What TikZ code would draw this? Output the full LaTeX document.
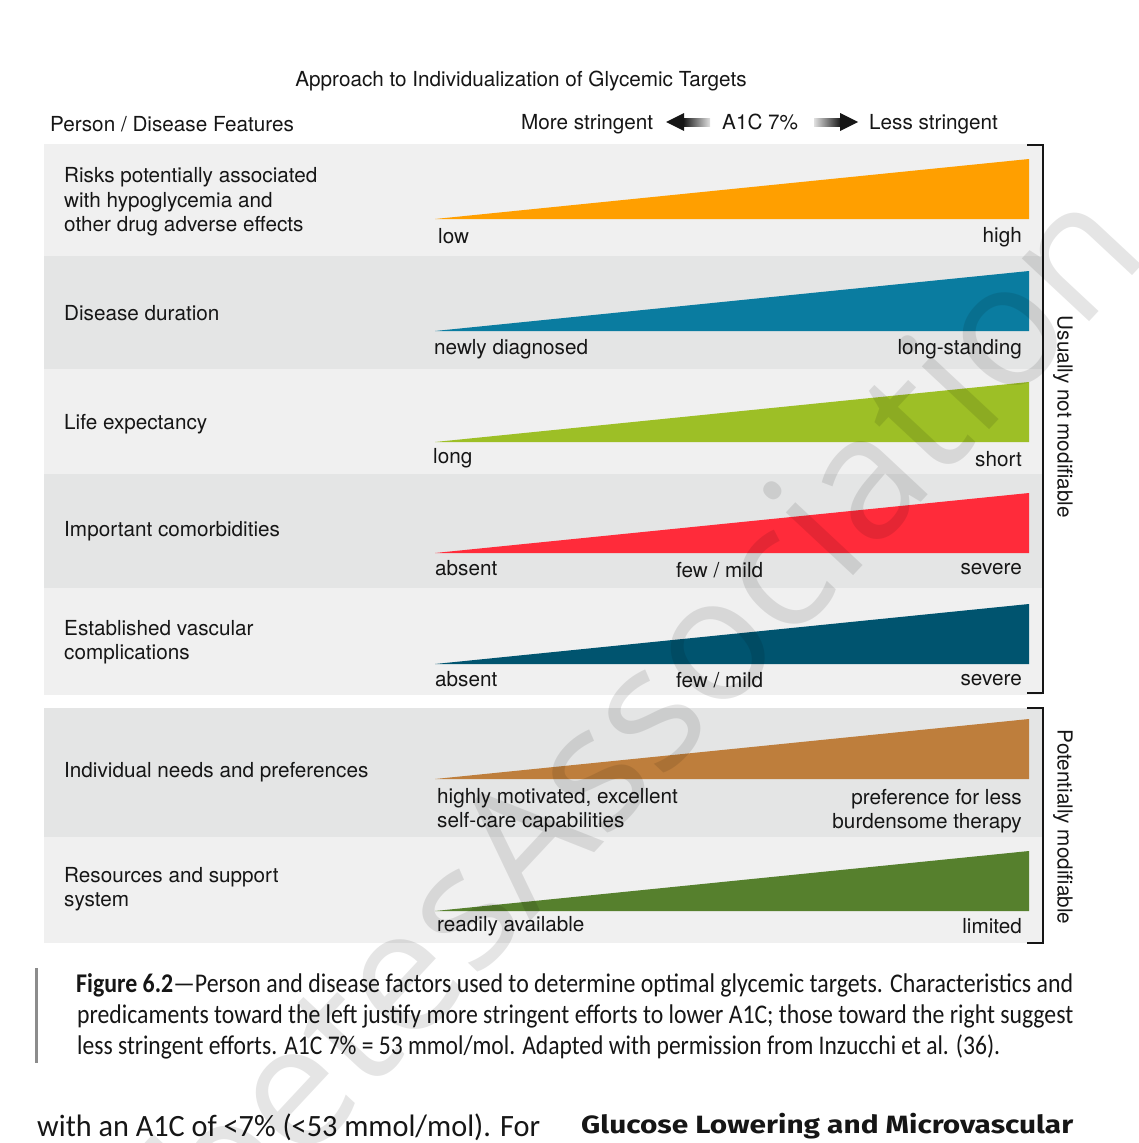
\documentclass[tikz,border=0pt]{standalone}
\usepackage{fontspec}
\usepackage{graphicx}
\setmainfont{TeX Gyre Heros}
\newfontfamily\capf{Carlito}
\newfontfamily\headf{Fira Sans}
\newfontfamily\wmf{Open Sans}
\definecolor{bandA}{HTML}{F0F0F0}
\definecolor{bandB}{HTML}{E4E5E5}
\definecolor{cOrange}{HTML}{FF9F00}
\definecolor{cTeal}{HTML}{0A7CA0}
\definecolor{cLime}{HTML}{9DBF26}
\definecolor{cRed}{HTML}{FF2B3A}
\definecolor{cDeep}{HTML}{00546F}
\definecolor{cBrown}{HTML}{BE7E3C}
\definecolor{cGreen}{HTML}{56802D}
\definecolor{txt}{HTML}{161616}
\begin{document}
\begin{tikzpicture}[x=1pt,y=-1pt,
  lbl/.style={inner sep=0pt, text=txt, font=\fontsize{20.7}{24.5}\selectfont},
  lft/.style={lbl, anchor=west, align=left},
  rgt/.style={lbl, anchor=east, align=right},
  brk/.style={draw=txt, line width=1.3pt},
  capline/.style={inner sep=0pt, anchor=base west, text=txt, font=\capf\fontsize{27}{31}\selectfont}]
\useasboundingbox (0,0) rectangle (1138,1143);
\fill[white] (0,0) rectangle (1138,1143);

% title and header
\node[lbl, anchor=base] (title) at (521,86) {Approach to Individualization of Glycemic Targets};
\node[lbl, anchor=base west] (feat) at (50,131) {Person / Disease Features};
\node[lbl, anchor=base west] (more) at (521,129) {More stringent};
\node[lbl, anchor=base west] (a1c) at (722,129) {A1C 7\%};
\node[lbl, anchor=base west] (less) at (869,129) {Less stringent};
\shade[left color=txt, right color=black!12] (683,118) rectangle (710,126);
\fill[txt] (666,122) -- (684,113) -- (684,131) -- cycle;
\shade[left color=black!12, right color=txt] (814,118) rectangle (841,126);
\fill[txt] (858,122) -- (840,113) -- (840,131) -- cycle;

% bands
\fill[bandA] (44,144) rectangle (1042,256);
\fill[bandB] (44,256) rectangle (1042,369);
\fill[bandA] (44,369) rectangle (1042,474);
\fill[bandB] (44,474) rectangle (1042,588);
\fill[bandA] (44,588) rectangle (1042,695);
\fill[bandB] (44,708) rectangle (1042,837);
\fill[bandA] (44,837) rectangle (1042,943);

% wedges
\fill[cOrange] (435,219) -- (1029,159) -- (1029,219) -- cycle;
\fill[cTeal]   (435,331) -- (1029,271) -- (1029,331) -- cycle;
\fill[cLime]   (435,442) -- (1029,382) -- (1029,442) -- cycle;
\fill[cRed]    (435,553) -- (1029,493) -- (1029,553) -- cycle;
\fill[cDeep]   (435,664) -- (1029,604) -- (1029,664) -- cycle;
\fill[cBrown]  (435,779) -- (1029,719) -- (1029,779) -- cycle;
\fill[cGreen]  (435,911) -- (1029,851) -- (1029,911) -- cycle;

% left labels
\node[lft] (f1) at (64,202) {Risks potentially associated\\with hypoglycemia and\\other drug adverse effects};
\node[lft] (f2) at (64,313) {Disease duration};
\node[lft] (f3) at (64,424) {Life expectancy};
\node[lft] (f4) at (64,531) {Important comorbidities};
\node[lft] (f5) at (64,642) {Established vascular\\complications};
\node[lft] (f6) at (64,772) {Individual needs and preferences};
\node[lft] (f7) at (64,889) {Resources and support\\system};

% scale labels
\node[lft] (l1) at (438,236) {low};
\node[rgt] (r1) at (1022,237) {high};
\node[lft] (l2) at (434,349) {newly diagnosed};
\node[rgt] (r2) at (1022,349) {long-standing};
\node[lft] (l3) at (433,458) {long};
\node[rgt] (r3) at (1022,459) {short};
\node[lft] (l4) at (435,568) {absent};
\node[lft] (m4) at (676,570) {few / mild};
\node[rgt] (r4) at (1022,569) {severe};
\node[lft] (l5) at (435,679) {absent};
\node[lft] (m5) at (676,680) {few / mild};
\node[rgt] (r5) at (1022,680) {severe};
\node[lft] (l6) at (437,810) {highly motivated, excellent\\self-care capabilities};
\node[rgt] (r6) at (1022,811) {preference for less\\burdensome therapy};
\node[lft] (l7) at (437,926) {readily available};
\node[rgt] (r7) at (1022,926) {limited};

% brackets
\draw[brk] (1027,145) -- (1043,145) -- (1043,693) -- (1027,693);
\draw[brk] (1027,708) -- (1043,708) -- (1043,943) -- (1027,943);
\node[lbl, rotate=-90] (um) at (1063,417) {Usually not modifiable};
\node[lbl, rotate=-90] (pm) at (1063,827) {Potentially modifiable};

% caption
\fill[black!45] (35,968) rectangle (38,1063);
\node[capline] (c1) at (76,992) {\resizebox{997pt}{\height}{\textbf{Figure 6.2}—Person and disease factors used to determine optimal glycemic targets. Characteristics and}};
\node[capline] (c2) at (77,1023) {\resizebox{996pt}{\height}{predicaments toward the left justify more stringent efforts to lower A1C; those toward the right suggest}};
\node[capline] (c3) at (77,1054) {\resizebox{923pt}{\height}{less stringent efforts. A1C 7\% = 53 mmol/mol. Adapted with permission from Inzucchi et al. (36).}};

% body text
\node[inner sep=0pt, anchor=base west, text=txt, font=\capf\fontsize{31}{34}\selectfont] (body) at (37,1136) {\resizebox{503pt}{\height}{with an A1C of <7\% (<53 mmol/mol). For}};
\node[inner sep=0pt, anchor=base west, text=txt, font=\headf\bfseries\fontsize{25}{30}\selectfont] (head) at (581,1133) {\resizebox{492pt}{\height}{Glucose Lowering and Microvascular}};

% watermark
\node[inner sep=0pt, rotate=47, anchor=base east, text=black, opacity=0.1, font=\wmf\fontsize{172}{172}\selectfont] (wm) at (1152,255) {DiabetesAssociation};
\end{tikzpicture}
\end{document}
